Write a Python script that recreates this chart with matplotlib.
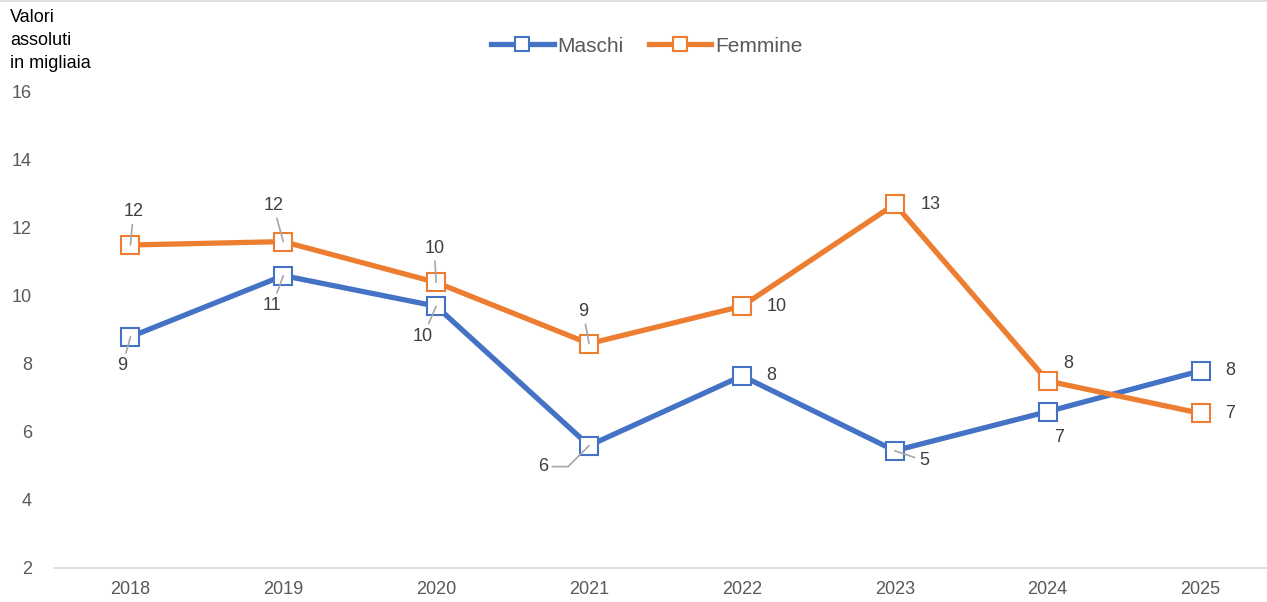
import matplotlib.pyplot as plt

plt.rcParams['font.family'] = ['Liberation Sans', 'DejaVu Sans']

# dati (valori assoluti in migliaia)
anni = ['2018', '2019', '2020', '2021', '2022', '2023', '2024', '2025']
maschi = [8.8, 10.6, 9.7, 5.6, 7.65, 5.45, 6.6, 7.8]
femmine = [11.5, 11.6, 10.4, 8.6, 9.7, 12.7, 7.5, 6.55]

# posizione etichette (offset in pixel, y verso l'alto) e linea guida
off_m = [(-8, -29, True), (-11, -30, True), (-13, -30, True), (-46, -21, True),
         (29, 0, False), (29, -10, True), (11, -26, False), (30, 0, False)]
off_f = [(3, 33, True), (-10, 36, True), (-2, 34, True), (-6, 32, True),
         (35, 0, False), (36, 0, False), (21, 17, False), (29, 0, False)]

blu = '#4472C4'
arancio = '#ED7D31'
grigio = '#595959'

fig = plt.figure(figsize=(12.67, 6.02), dpi=100)
ax = fig.add_axes([54 / 1267, 34 / 602, 1223 / 1267, 476 / 602])

x = list(range(len(anni)))
for vals, col, nome in [(maschi, blu, 'Maschi'), (femmine, arancio, 'Femmine')]:
    ax.plot(x, vals, color=col, lw=3.8, marker='s', markersize=12.5,
            markerfacecolor='white', markeredgecolor=col, markeredgewidth=1.5,
            label=nome, zorder=3)

def etichette(vals, offs):
    for i, (v, (dx, dy, lead)) in enumerate(zip(vals, offs)):
        ap = None
        if lead:
            ap = dict(arrowstyle='-', color='#A6A6A6', lw=1.2, shrinkA=1, shrinkB=0)
            if i == 3 and dx < -30:
                ap['connectionstyle'] = 'angle,angleA=0,angleB=45,rad=0'
        ax.annotate(str(int(v + 0.5)), (i, v), xytext=(dx, dy),
                    textcoords='offset pixels', ha='center', va='center',
                    fontsize=13, color='#404040', arrowprops=ap, zorder=4)

etichette(maschi, off_m)
etichette(femmine, off_f)

ax.set_xlim(-0.5, 7.5)
ax.set_ylim(2, 16)
ax.set_yticks(range(2, 17, 2))
ax.set_xticks(x)
ax.set_xticklabels(anni)
ax.tick_params(length=0, labelsize=13, colors=grigio)
ax.tick_params(axis='y', pad=16)
ax.tick_params(axis='x', pad=9)
for s in ['top', 'right', 'left']:
    ax.spines[s].set_visible(False)
ax.spines['bottom'].set_color('#D9D9D9')
ax.spines['bottom'].set_linewidth(1.2)

fig.text(10 / 1267, 1 - 9 / 602, 'Valori\nassoluti\nin migliaia', ha='left', va='top',
         fontsize=13, color='black', linespacing=1.45)

fig.legend(loc='center', bbox_to_anchor=(647 / 1267, 1 - 46 / 602), ncol=2,
           frameon=False, fontsize=15, handlelength=3, columnspacing=1.2,
           handletextpad=0.2, labelcolor=grigio, markerscale=0.75)

# linea sottile in alto
fig.add_artist(plt.Line2D([0, 1], [0.999, 0.999], color='#D9D9D9', lw=1.2))

fig.savefig('out.png', dpi=100)
